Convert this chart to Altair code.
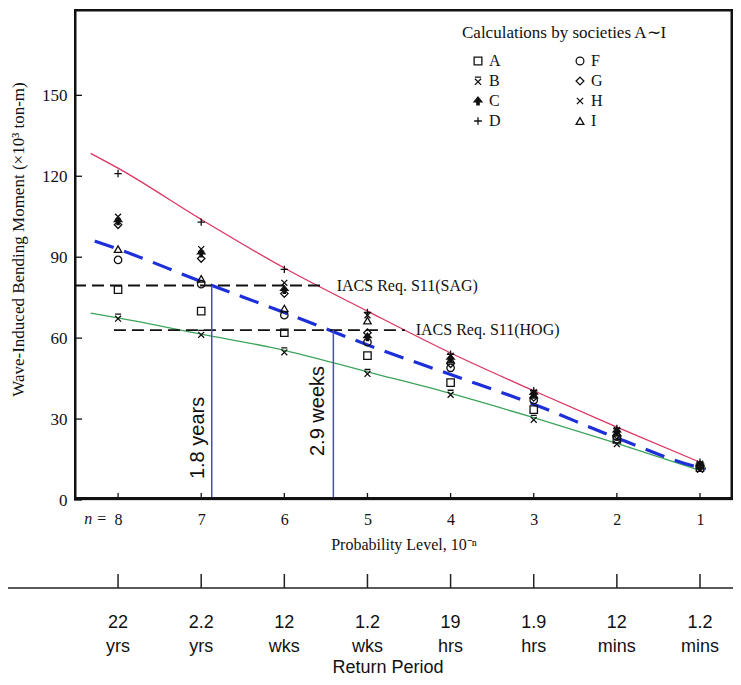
import altair as alt
import pandas as pd

# ---------------- data ----------------
n_levels = [8, 7, 6, 5, 4, 3, 2, 1]
return_labels = ["22\nyrs", "2.2\nyrs", "12\nwks", "1.2\nwks",
                 "19\nhrs", "1.9\nhrs", "12\nmins", "1.2\nmins"]
y_ticks = [0, 30, 60, 90, 120, 150]

soc_A = [78, 70, 62, 53.5, 43.5, 33.5, 22.5, 12]
soc_B = [67.5, 61.5, 55, 47, 39.3, 30, 21, 11.5]
soc_C = [103.5, 91.5, 78, 60.5, 52.5, 39.5, 25.5, 13]
soc_D = [121, 103, 85.5, 69.5, 54, 40.5, 26.5, 14]
soc_F = [89, 80, 68.5, 58.5, 49, 37, 23.5, 12.5]
soc_G = [102, 89.5, 76.5, 62, 50.5, 38, 24, 12.5]
soc_H = [105, 93, 80.5, 68.5, 53.5, 40, 26, 13.5]
soc_I = [93, 82, 71, 66.5, 52, 39, 25, 13]

red_n = [8.33, 8, 7, 6, 5, 4, 3, 2, 1]
red_v = [128.5, 123, 104, 86, 70, 54.5, 40.5, 27, 14]
blue_n = [8.28, 8, 7, 6, 5, 4, 3, 2, 1, 0.93]
blue_v = [96, 93, 81, 69.5, 57.5, 46.5, 35.5, 23, 12, 11.5]
green_n = [8.33, 8, 7, 6, 5, 4, 3, 2, 1]
green_v = [69.3, 67.5, 61.5, 55.5, 47.5, 39.5, 30.5, 21, 11]

req_names = ["IACS Req. S11(SAG)", "IACS Req. S11(HOG)"]
req_levels = [79.5, 63]
req_start = [8.53, 8.05]
req_end = [5.51, 4.55]
req_label_n = [5.37, 4.42]

period_names = ["1.8 years", "2.9 weeks"]
period_n = [6.873, 5.41]
period_top = [79.5, 63]
period_label_n = [7.04, 5.59]
period_label_v = [23, 33]

n_min, n_max = 0.603, 8.53
v_min, v_max = 0, 182

# ---------------- tables ----------------
soc_vals = {"A": soc_A, "B": soc_B, "C": soc_C, "D": soc_D,
            "F": soc_F, "G": soc_G, "H": soc_H, "I": soc_I}
pts = pd.DataFrame([{"n": n, "v": v, "society": s}
                    for s, vals in soc_vals.items() for n, v in zip(n_levels, vals)])
red = pd.DataFrame({"n": red_n, "v": red_v})
blue = pd.DataFrame({"n": blue_n, "v": blue_v})
green = pd.DataFrame({"n": green_n, "v": green_v})
req = pd.DataFrame({"name": req_names, "v": req_levels, "n0": req_start,
                    "n1": req_end, "nl": req_label_n})
per = pd.DataFrame({"name": period_names, "n": period_n, "top": period_top,
                    "nl": period_label_n, "vl": period_label_v, "zero": [0, 0]})
ticks_x = pd.DataFrame({"n": n_levels, "label": return_labels})
ticks_y = pd.DataFrame({"v": y_ticks})
one = pd.DataFrame({"a": [0]})

W, H = 659, 491
SERIF = "Liberation Serif"
SANS = "Liberation Sans"

# frame bars in pixel space (scale=None), as in the run that drew them
frame_df = pd.DataFrame({
    "fx0": [0, 0, 0, W - 2.5],
    "fx1": [W, W, 2.5, W],
    "fy0": [0, H - 3, 0, 0],
    "fy1": [2.5, H, H, H],
})

xs = alt.Scale(domain=[n_min, n_max], reverse=True, nice=False, zero=False)
ys = alt.Scale(domain=[v_min, v_max], nice=False, zero=False)

X = alt.X("n:Q", scale=xs, axis=alt.Axis(
    values=n_levels, format="d", tickSize=0, domain=False, grid=False,
    labelFont=SERIF, labelFontSize=16, labelPadding=11, labelColor="#111",
    title="Probability Level, 10⁻ⁿ", titleFont=SERIF, titleFontSize=16,
    titleFontWeight="normal", titlePadding=9, titleColor="#111"))
Y = alt.Y("v:Q", scale=ys, axis=alt.Axis(
    values=y_ticks, tickSize=0, domain=False, grid=False,
    labelFont=SERIF, labelFontSize=17, labelPadding=7, labelColor="#111",
    title="Wave-Induced Bending Moment  (×10³ ton-m)", titleFont=SERIF,
    titleFontSize=17, titleFontWeight="normal", titleColor="#111",
    titleX=-56, titleY=230, titleAlign="center", titleBaseline="middle"))

base_lines = alt.Chart(red).mark_line(color="#dc3462", strokeWidth=1.3,
                                      interpolate="monotone").encode(x=X, y=Y)
green_line = alt.Chart(green).mark_line(color="#3da35c", strokeWidth=1.3,
                                        interpolate="monotone").encode(x="n:Q", y="v:Q")
blue_line = alt.Chart(blue).mark_line(color="#1c2fd8", strokeWidth=3.2,
                                      strokeDash=[20, 11],
                                      interpolate="monotone").encode(x="n:Q", y="v:Q")

req_rules = alt.Chart(req).mark_rule(color="#111", strokeWidth=1.8,
                                     strokeDash=[12, 6]).encode(
    x="n0:Q", x2="n1:Q", y="v:Q")
req_text = alt.Chart(req).mark_text(align="left", baseline="middle", font=SERIF,
                                    fontSize=16, color="#111").encode(
    x="nl:Q", y="v:Q", text="name:N")

per_rules = alt.Chart(per).mark_rule(color="#4a4ac8", strokeWidth=1.5).encode(
    x="n:Q", y="top:Q", y2="zero:Q")
per_text = alt.Chart(per).mark_text(angle=270, align="center", baseline="middle",
                                    font=SANS, fontSize=20, color="#111").encode(
    x="nl:Q", y="vl:Q", text="name:N")

order = ["A", "B", "C", "D", "F", "G", "H", "I"]
shape_map = {
    "A": "square",
    "B": "M-0.8,-1H0.8M-0.8,-0.6L0.8,1M0.8,-0.6L-0.8,1",
    "C": "M0,-1L1,0.2L0.3,0.2L0.3,1L-0.3,1L-0.3,0.2L-1,0.2Z",
    "D": "M-1,0H1M0,-1V1",
    "F": "circle",
    "G": "diamond",
    "H": "M-0.8,-0.8L0.8,0.8M-0.8,0.8L0.8,-0.8",
    "I": "triangle-up",
}
fill_map = {k: ("#111" if k == "C" else "transparent") for k in order}

leg = alt.Legend(orient="none", legendX=396, legendY=44, columns=2,
                 columnPadding=71, rowPadding=4, symbolSize=60,
                 symbolStrokeWidth=1.3,
                 labelFont=SERIF, labelFontSize=16, labelOffset=3,
                 labelColor="#111", title=None)

points = alt.Chart(pts).mark_point(filled=True, strokeWidth=1.3,
                                   size=55, opacity=1).encode(
    x="n:Q", y="v:Q",
    shape=alt.Shape("society:N", scale=alt.Scale(domain=order,
                    range=[shape_map[k] for k in order]), legend=leg),
    fill=alt.Fill("society:N", scale=alt.Scale(domain=order,
                  range=[fill_map[k] for k in order]), legend=leg),
    stroke=alt.Stroke("society:N", scale=alt.Scale(domain=order,
                      range=["#111"] * len(order)), legend=leg),
)

leg_title = alt.Chart(one).mark_text(align="left", baseline="middle", font=SERIF,
                                     fontSize=17, color="#111").encode(
    x=alt.value(388), y=alt.value(24), text=alt.value("Calculations by societies A∼I"))

n_eq = alt.Chart(one).mark_text(align="center", baseline="middle", font=SERIF,
                                fontSize=16, fontStyle="italic", color="#111").encode(
    x=alt.datum(8.27), y=alt.value(510), text=alt.value("n ="))

frame = alt.Chart(frame_df).mark_rect(color="#111", opacity=1).encode(
    x=alt.X("fx0:Q", scale=None), x2="fx1:Q",
    y=alt.Y("fy0:Q", scale=None), y2="fy1:Q")

ytick_marks = alt.Chart(ticks_y).mark_rule(color="#111", strokeWidth=1.3).encode(
    y="v:Q", x=alt.value(0), x2=alt.value(8))
xtick_marks = alt.Chart(ticks_x).mark_rule(color="#111", strokeWidth=1.3).encode(
    x="n:Q", y=alt.value(H - 7), y2=alt.value(H))

rp_line = alt.Chart(one).mark_rule(color="#222", strokeWidth=1.5).encode(
    x=alt.value(-66), x2=alt.value(W), y=alt.value(579))
rp_ticks = alt.Chart(ticks_x).mark_rule(color="#222", strokeWidth=1.5).encode(
    x="n:Q", y=alt.value(565), y2=alt.value(579))
rp_labels = alt.Chart(ticks_x).mark_text(align="center", baseline="top", font=SANS,
                                         fontSize=18, lineBreak="\n", lineHeight=24,
                                         color="#111").encode(
    x="n:Q", y=alt.value(605), text="label:N")
rp_title = alt.Chart(one).mark_text(align="center", baseline="middle", font=SANS,
                                    fontSize=18, color="#111").encode(
    x=alt.value(314), y=alt.value(659), text=alt.value("Return Period"))

chart = alt.layer(
    base_lines, green_line, blue_line, req_rules, req_text, per_rules, per_text,
    points, leg_title, n_eq, frame,
    ytick_marks, xtick_marks, rp_line, rp_ticks, rp_labels, rp_title,
).properties(
    width=W, height=H, background="white",
    autosize=alt.AutoSizeParams(type="none"),
    padding={"left": 66, "top": 1, "right": 0, "bottom": 177},
)

chart.save("out.html", embed_options={"renderer": "svg", "actions": False})
